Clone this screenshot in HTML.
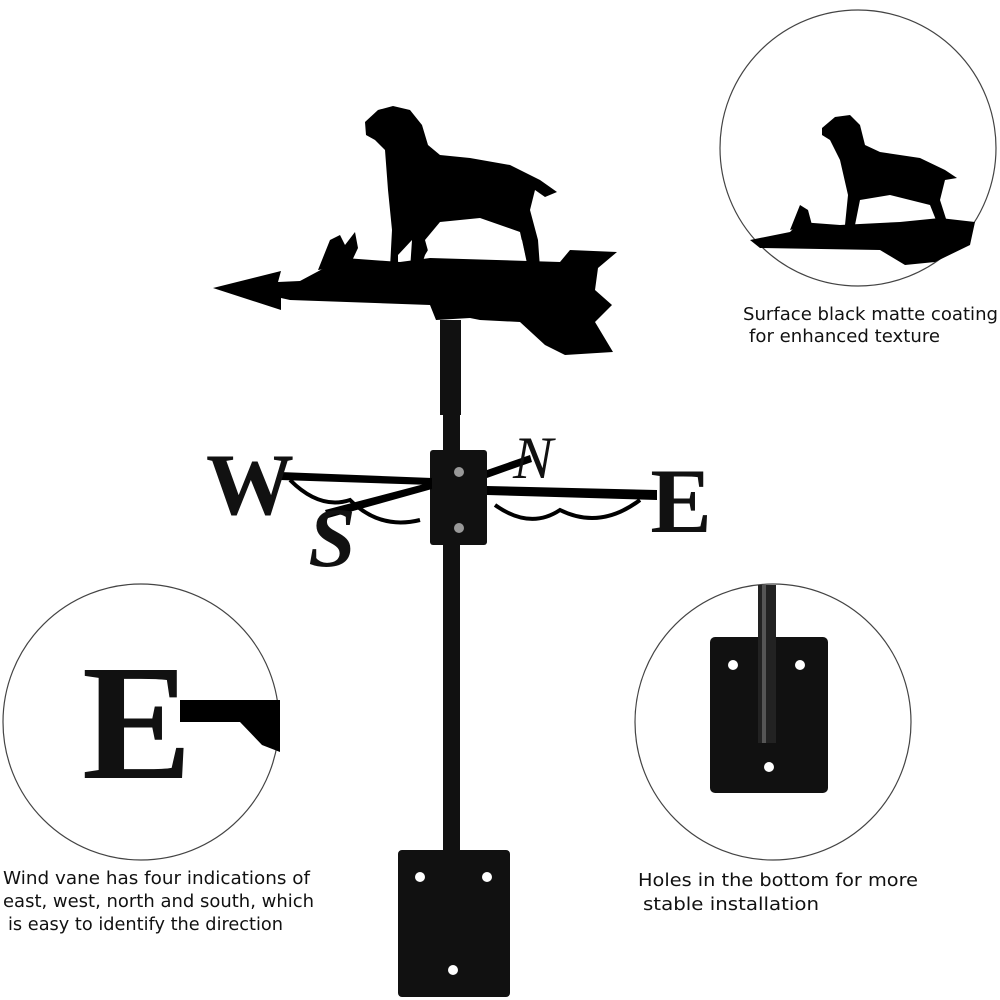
<!DOCTYPE html>
<html><head><style>
html,body{margin:0;padding:0;background:#fff;}
svg{display:block;}
text{font-family:"DejaVu Sans","Liberation Sans",sans-serif;fill:#111;}
</style></head><body>
<svg width="1000" height="1000" viewBox="0 0 1000 1000" xmlns="http://www.w3.org/2000/svg">
<rect width="1000" height="1000" fill="#fff"/>
<circle cx="858" cy="148" r="138" fill="none" stroke="#444" stroke-width="1.2"/>
<circle cx="141" cy="722" r="138" fill="none" stroke="#444" stroke-width="1.2"/>
<circle cx="773" cy="722" r="138" fill="none" stroke="#444" stroke-width="1.2"/>

<rect x="440" y="320" width="21" height="95" fill="#111"/>
<rect x="443" y="410" width="17" height="445" fill="#111"/>

<path d="M213,288 L281,271 L278,282 L300,281 L330,265 L345,258 L400,262 L430,258 L560,262 L570,250 L617,252 L598,268 L595,290 L612,305 L595,322 L613,352 L565,355 L545,345 L520,322 L480,320 L470,318 L436,320 L430,305 L290,300 L281,298 L281,310 Z" fill="#000"/>
<path d="M318,270 L330,240 L340,235 L345,245 L355,232 L358,248 L350,265 Z" fill="#000"/>
<path d="M365,122 L378,110 L393,106 L410,110 L422,125 L428,145 L440,155 L470,158 L510,165 L540,180 L557,192 L545,197 L535,190 L530,210 L538,240 L540,268 L528,268 L522,240 L480,222 L440,230 L425,255 L420,270 L410,270 L412,240 L398,255 L398,268 L390,268 L392,230 L388,190 L385,150 L375,140 L366,135 Z" fill="#000"/>
<path d="M425,240 L440,222 L480,218 L520,232 L525,255 L430,258 Z" fill="#fff"/>

<rect x="430" y="450" width="57" height="95" fill="#111" rx="3"/>
<circle cx="459" cy="472" r="5" fill="#999"/>
<circle cx="459" cy="528" r="5" fill="#999"/>
<path d="M280,472 L432,478 L432,485 L280,480 Z" fill="#000"/>
<path d="M487,486 L657,490 L657,500 L487,495 Z" fill="#000"/>
<path d="M325,510 L432,482 L432,489 L328,518 Z" fill="#000"/>
<path d="M487,470 L530,455 L532,462 L487,478 Z" fill="#000"/>
<path d="M290,480 Q320,510 350,500 Q380,530 420,520" fill="none" stroke="#000" stroke-width="4"/>
<path d="M495,505 Q530,530 560,510 Q600,530 640,500" fill="none" stroke="#000" stroke-width="4"/>
<text x="250" y="514" text-anchor="middle" font-weight="bold" font-size="88" style="font-family:'Liberation Serif',serif">W</text>
<text x="681" y="532" text-anchor="middle" font-weight="bold" font-size="92" style="font-family:'Liberation Serif',serif">E</text>
<text x="533" y="478" text-anchor="middle" font-style="italic" font-size="60" style="font-family:'Liberation Serif',serif">N</text>
<text x="332" y="566" text-anchor="middle" font-style="italic" font-weight="bold" font-size="85" style="font-family:'Liberation Serif',serif">S</text>

<rect x="398" y="850" width="112" height="147" rx="4" fill="#111"/>
<circle cx="420" cy="877" r="5" fill="#fff"/>
<circle cx="487" cy="877" r="5" fill="#fff"/>
<circle cx="453" cy="970" r="5" fill="#fff"/>

<path d="M750,240 L790,232 L800,222 L840,225 L900,222 L940,218 L975,222 L970,245 L935,262 L905,265 L880,250 L760,248 Z" fill="#000"/>
<path d="M822,128 L835,117 L850,115 L860,125 L865,145 L880,152 L920,158 L945,170 L957,178 L945,180 L940,200 L948,225 L938,225 L930,205 L890,195 L860,200 L855,225 L845,225 L848,195 L840,160 L830,140 L822,135 Z" fill="#000"/>
<path d="M790,230 L800,205 L808,210 L812,225 Z" fill="#000"/>

<text x="137" y="778" text-anchor="middle" font-weight="bold" font-size="165" style="font-family:'Liberation Serif',serif">E</text>
<path d="M180,700 L280,700 L280,752 L262,745 L240,722 L180,722 Z" fill="#000"/>

<rect x="710" y="637" width="118" height="156" rx="5" fill="#111"/>
<rect x="758" y="585" width="18" height="158" fill="#222"/>
<rect x="762" y="585" width="4" height="158" fill="#555"/>
<circle cx="733" cy="665" r="5" fill="#fff"/>
<circle cx="800" cy="665" r="5" fill="#fff"/>
<circle cx="769" cy="767" r="5" fill="#fff"/>

<text x="743" y="320" font-size="18" textLength="255" lengthAdjust="spacingAndGlyphs">Surface black matte coating</text>
<text x="749" y="342" font-size="18" textLength="191" lengthAdjust="spacingAndGlyphs">for enhanced texture</text>
<text x="3" y="884" font-size="18" textLength="307" lengthAdjust="spacingAndGlyphs">Wind vane has four indications of</text>
<text x="3" y="907" font-size="18" textLength="311" lengthAdjust="spacingAndGlyphs">east, west, north and south, which</text>
<text x="8" y="930" font-size="18" textLength="275" lengthAdjust="spacingAndGlyphs">is easy to identify the direction</text>
<text x="638" y="886" font-size="18" textLength="280" lengthAdjust="spacingAndGlyphs">Holes in the bottom for more</text>
<text x="643" y="910" font-size="18" textLength="176" lengthAdjust="spacingAndGlyphs">stable installation</text>
</svg>
</body></html>
